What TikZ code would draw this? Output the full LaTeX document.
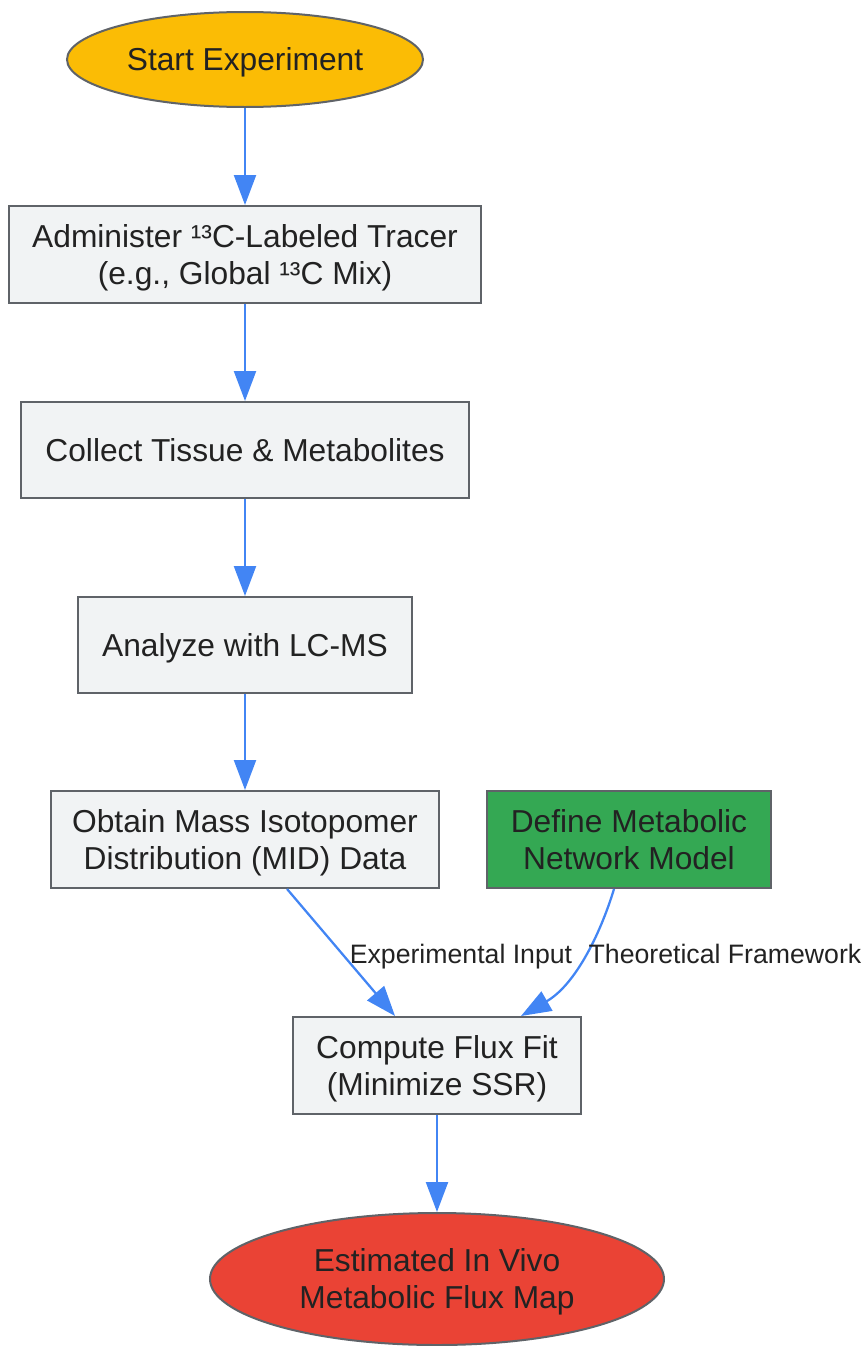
\documentclass[tikz,border=0pt]{standalone}
\usepackage{fontspec}
\setmainfont{Liberation Sans}
\usetikzlibrary{shapes.geometric,arrows.meta,calc}
\definecolor{boxfill}{HTML}{F1F3F4}
\definecolor{boxline}{HTML}{5F6368}
\definecolor{arrowblue}{HTML}{4285F4}
\definecolor{startyellow}{HTML}{FBBC05}
\definecolor{modelgreen}{HTML}{34A853}
\definecolor{endred}{HTML}{EA4335}
\definecolor{txt}{HTML}{222222}
\newcommand{\tstr}{\rule{0pt}{22.4pt}}
\newcommand{\bstr}{\rule[-5.5pt]{0pt}{0pt}}
\tikzset{
  base/.style={draw=boxline, line width=1.5pt, text=txt, align=center, inner sep=0pt,
    font=\fontsize{23.8}{27.5}\selectfont},
  procbox/.style={base, rectangle, fill=boxfill},
  oval/.style={base, ellipse},
  arr/.style={draw=arrowblue, line width=1.7pt, -{Triangle[length=22.5pt,width=16.5pt]}},
  lbl/.style={text=txt, font=\fontsize{20}{24}\selectfont, inner sep=0pt, text height=15pt, text depth=4pt}
}
\begin{document}
\begin{tikzpicture}[x=0.75pt,y=-0.75pt]
\useasboundingbox (0,0) rectangle (864,1346);
\node[oval, fill=startyellow, minimum width=267pt, minimum height=71.25pt] (start) at (245,59.5) {\tstr Start Experiment\bstr};
\node[procbox, minimum width=354pt, minimum height=72.75pt] (b1) at (245,254.5) {\tstr Administer ¹³C-Labeled Tracer\\(e.g., Global ¹³C Mix)\bstr};
\node[procbox, minimum width=336pt, minimum height=72pt] (b2) at (245,450) {\tstr Collect Tissue \& Metabolites\bstr};
\node[procbox, minimum width=250.5pt, minimum height=72pt] (b3) at (245,645) {\tstr Analyze with LC-MS\bstr};
\node[procbox, minimum width=291pt, minimum height=72.75pt] (b4) at (245,839.5) {\tstr Obtain Mass Isotopomer\\Distribution (MID) Data\bstr};
\node[procbox, fill=modelgreen, minimum width=213pt, minimum height=72.75pt] (def) at (629,839.5) {\tstr Define Metabolic\\Network Model\bstr};
\node[procbox, minimum width=216pt, minimum height=72.75pt] (comp) at (437,1065.5) {\tstr Compute Flux Fit\\(Minimize SSR)\bstr};
\node[oval, fill=endred, minimum width=340.5pt, minimum height=99pt] (end) at (437,1279) {\tstr Estimated In Vivo\\Metabolic Flux Map\bstr};

\draw[arr] (start) -- (b1);
\draw[arr] (b1) -- (b2);
\draw[arr] (b2) -- (b3);
\draw[arr] (b3) -- (b4);
\draw[arr] (b4) -- (comp);
\draw[arr] ($(def.south)+(-15,0)$) .. controls (600,935) and (575,985) .. ($(comp.north)+(84,0)$);
\draw[arr] (comp) -- (end);

\node[lbl] (l1) at (461,956.4) {Experimental Input};
\node[lbl] (l2) at (725,956.4) {Theoretical Framework};
\end{tikzpicture}
\end{document}
